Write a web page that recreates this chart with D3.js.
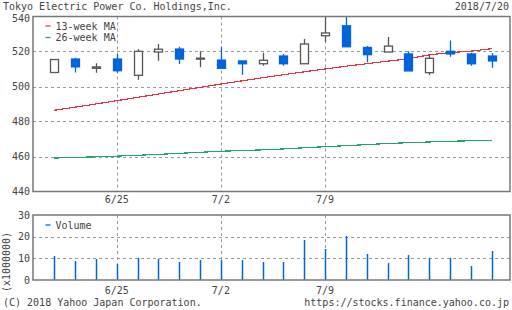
<!DOCTYPE html>
<html><head><meta charset="utf-8">
<script src="https://cdn.jsdelivr.net/npm/d3@7"></script>
<style>
html,body{margin:0;padding:0;background:#fff;}
svg text{font-family:"DejaVu Sans Mono",monospace;font-size:10px;fill:#444;}
</style></head>
<body>
<svg id="c" width="512" height="310"></svg>
<script>
const dates = ["6/20","6/21","6/22","6/25","6/26","6/27","6/28","6/29","7/2","7/3","7/4","7/5","7/6","7/9","7/10","7/11","7/12","7/13","7/17","7/18","7/19","7/20"];
const openV  = [508.0,515.7,510.4,515.7,506.4,519.7,521.4,515.8,515.1,514.6,513.0,517.4,513.0,529.0,534.7,522.3,519.7,518.6,507.9,520.1,518.6,517.4];
const closeV = [515.4,511.2,511.2,509.0,520.1,521.3,515.7,516.2,510.4,513.0,515.0,513.0,524.3,530.6,522.7,518.2,523.1,508.9,516.1,518.6,513.0,514.6];
const highV  = [515.5,516.5,513.3,518.6,521.3,524.3,522.7,520.1,522.7,514.6,519.3,518.6,527.1,541.0,541.0,523.1,528.3,520.1,518.4,526.3,519.3,519.0];
const lowV   = [508.0,508.0,507.9,507.9,503.9,514.7,512.9,511.0,510.4,506.7,511.9,511.9,513.0,525.4,522.7,513.8,519.7,508.9,506.6,517.0,511.9,510.7];
const ma13 = [486.4,488.2,490.0,491.9,493.8,495.7,497.6,499.5,501.4,503.2,505.0,506.7,508.4,510.0,511.6,513.0,514.5,515.8,518.1,519.4,520.2,521.6];
const ma26 = [459.1,459.5,459.8,460.2,460.7,461.2,461.8,462.4,463.0,463.4,463.8,464.3,465.0,465.6,466.2,466.8,467.4,467.9,468.3,468.7,469.0,469.3];
const volume = [11.1,8.8,9.7,7.4,10.2,9.8,8.3,9.2,9.2,9.2,8.3,8.3,18.5,14.3,20.3,12.0,7.8,11.5,10.2,10.2,6.5,13.4];
const priceTicks = [440,460,480,500,520,540];
const volTicks = [0,10,20,30];
const xTickLabels = ["6/25","7/2","7/9"];
const title = "Tokyo Electric Power Co. Holdings,Inc.";
const dateLabel = "2018/7/20";

const svg = d3.select("#c");
const L=33, R=510, T=16.5, B=191.5, VT=215, VB=280;
const x = d3.scaleLinear().domain([-1.02, 21.88]).range([L, R]);
const y = d3.scaleLinear().domain([440, 540]).range([B, T]);
const yv = d3.scaleLinear().domain([0, 30]).range([VB, VT]);
const blue = "#0064dc", gray = "#555", gridC = "#999";
const idx = d3.range(dates.length);
const tickIdx = xTickLabels.map(l => dates.indexOf(l));

function grid(g, yScale, ticks, top, bottom) {
  g.selectAll(".hg").data(ticks.filter(t => yScale(t) > top + 1 && yScale(t) < bottom - 1)).join("line")
    .attr("x1", L).attr("x2", R).attr("y1", d => Math.round(yScale(d)) + 0.5).attr("y2", d => Math.round(yScale(d)) + 0.5)
    .attr("stroke", gridC).attr("stroke-dasharray", "3,3");
  g.selectAll(".vg").data(tickIdx).join("line")
    .attr("x1", d => Math.round(x(d)) + 0.5).attr("x2", d => Math.round(x(d)) + 0.5).attr("y1", top).attr("y2", bottom)
    .attr("stroke", gridC).attr("stroke-dasharray", "3,3");
}

// header
svg.append("text").attr("x",3).attr("y",10).text(title);
svg.append("text").attr("x",509).attr("y",10).attr("text-anchor","end").text(dateLabel);

// main panel
const gm = svg.append("g");
grid(gm.append("g"), y, priceTicks, T, B);
svg.append("clipPath").attr("id","cp").append("rect").attr("x",L).attr("y",T).attr("width",R-L).attr("height",B-T);

const plot = svg.append("g").attr("clip-path","url(#cp)");
const line = d3.line().x(i => x(i));
plot.append("path").datum(idx).attr("d", line.y(i => y(ma26[i]))).attr("fill","none").attr("stroke","#1fa86a").attr("stroke-width",1.2).attr("shape-rendering","crispEdges");
plot.append("path").datum(idx).attr("d", line.y(i => y(ma13[i]))).attr("fill","none").attr("stroke","#e8343c").attr("stroke-width",1.2).attr("shape-rendering","crispEdges");

const cw = 8;
const cg = plot.selectAll(".cd").data(idx).join("g");
cg.append("line")
  .attr("x1", i => Math.round(x(i)) + 0.5).attr("x2", i => Math.round(x(i)) + 0.5)
  .attr("y1", i => y(highV[i])).attr("y2", i => y(lowV[i]))
  .attr("stroke", i => closeV[i] >= openV[i] ? gray : blue).attr("stroke-width", 1.3);
cg.append("rect")
  .attr("x", i => Math.round(x(i)) - cw/2 + 0.5)
  .attr("width", cw)
  .attr("y", i => y(Math.max(openV[i], closeV[i])))
  .attr("height", i => Math.max(1, Math.abs(y(openV[i]) - y(closeV[i]))))
  .attr("fill", i => closeV[i] >= openV[i] ? "#fff" : blue)
  .attr("stroke", i => closeV[i] >= openV[i] ? gray : blue)
  .attr("stroke-width", 1.3);

// main frame
svg.append("rect").attr("x",L).attr("y",T).attr("width",R-L).attr("height",B-T).attr("fill","none").attr("stroke","#777").attr("stroke-width",1.5);

// y labels main (top one nudged so it clears the title)
svg.selectAll(".yl").data(priceTicks).join("text").attr("x",30)
  .attr("y",d=>y(d) + (d === 540 ? 5 : 3.5)).attr("text-anchor","end").text(d=>d);
// x labels main
svg.selectAll(".xl").data(tickIdx).join("text").attr("x",d=>x(d)).attr("y",203).attr("text-anchor","middle").text((d,i)=>xTickLabels[i]);

// legend main
[["13-week MA","#e8343c",26],["26-week MA","#1fa86a",37.5]].forEach(([t,c,yy])=>{
  svg.append("line").attr("x1",45.5).attr("x2",50.5).attr("y1",yy).attr("y2",yy).attr("stroke",c).attr("stroke-width",1.3);
  svg.append("text").attr("x",55.5).attr("y",yy+3.5).text(t);
});

// volume panel
const gv = svg.append("g");
grid(gv.append("g"), yv, volTicks, VT, VB);
gv.selectAll(".vb").data(idx).join("line")
  .attr("x1", i => Math.round(x(i)) + 0.5).attr("x2", i => Math.round(x(i)) + 0.5)
  .attr("y1", VB).attr("y2", i => yv(volume[i]))
  .attr("stroke", blue).attr("stroke-width", 1.5);
svg.append("rect").attr("x",L).attr("y",VT).attr("width",R-L).attr("height",VB-VT).attr("fill","none").attr("stroke","#777").attr("stroke-width",1.5);
svg.selectAll(".vl").data(volTicks).join("text").attr("x",30).attr("y",d=>yv(d)+3.5).attr("text-anchor","end").text(d=>d);
svg.selectAll(".xl2").data(tickIdx).join("text").attr("x",d=>x(d)).attr("y",294).attr("text-anchor","middle").text((d,i)=>xTickLabels[i]);
svg.append("line").attr("x1",45.5).attr("x2",50.5).attr("y1",225).attr("y2",225).attr("stroke",blue).attr("stroke-width",1.3);
svg.append("text").attr("x",55.5).attr("y",228.5).text("Volume");
svg.append("text").attr("transform","translate(10,262) rotate(-90)").attr("text-anchor","middle").text("(x1000000)");

// footer
svg.append("text").attr("x",3).attr("y",306).text("(C) 2018 Yahoo Japan Corporation.");
svg.append("text").attr("x",509).attr("y",306).attr("text-anchor","end").text("https://stocks.finance.yahoo.co.jp");
</script>
</body></html>
